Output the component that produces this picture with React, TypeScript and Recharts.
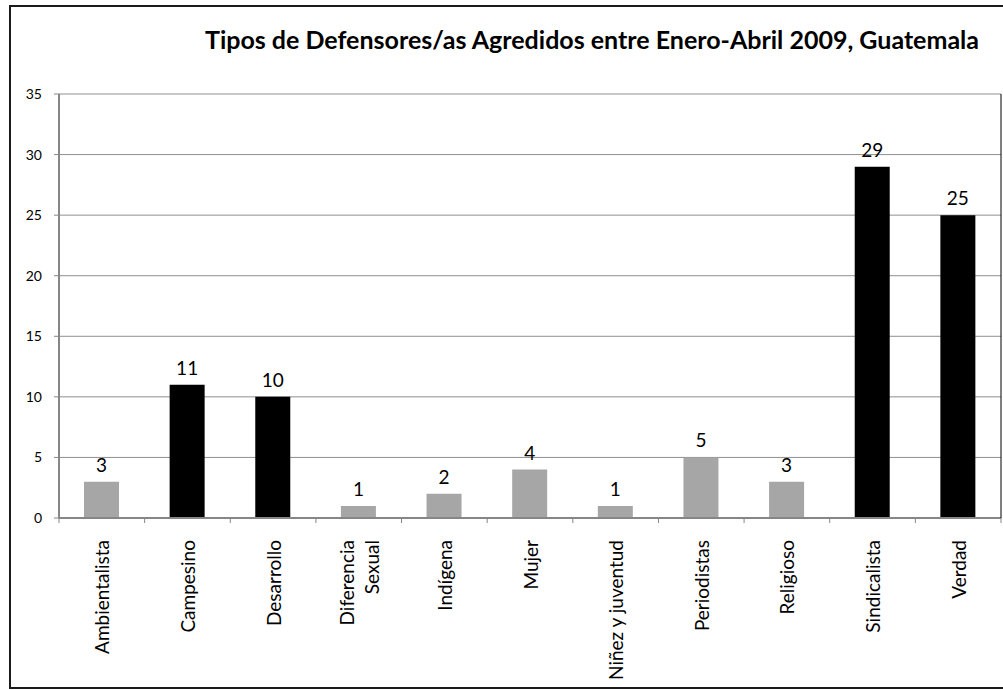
import React from "react";
import {
  BarChart,
  Bar,
  XAxis,
  YAxis,
  CartesianGrid,
  Cell,
  LabelList,
} from "recharts";

const categories = [
  "Ambientalista",
  "Campesino",
  "Desarrollo",
  "Diferencia Sexual",
  "Indígena",
  "Mujer",
  "Niñez y juventud",
  "Periodistas",
  "Religioso",
  "Sindicalista",
  "Verdad",
];
const values = [3, 11, 10, 1, 2, 4, 1, 5, 3, 29, 25];
const yTicks = [0, 5, 10, 15, 20, 25, 30, 35];
const darkCategories = ["Campesino", "Desarrollo", "Sindicalista", "Verdad"];

const FONT = "Lato, 'Open Sans', sans-serif";
const BAND = 942 / 11;

const data = categories.map((name, i) => ({ name, value: values[i] }));

// rotated category labels + boundary tick marks like Excel
function CategoryTick(props: any) {
  const { x, y, payload, index } = props;
  const lines: string[] =
    payload.value === "Diferencia Sexual" ? ["Diferencia", "Sexual"] : [payload.value];
  const left = x - BAND / 2;
  return (
    <g>
      <line x1={left} y1={y} x2={left} y2={y + 5} stroke="#868686" strokeWidth={1} />
      {index === categories.length - 1 && (
        <line x1={x + BAND / 2} y1={y} x2={x + BAND / 2} y2={y + 5} stroke="#868686" />
      )}
      {lines.map((t, i) => {
        const dx = lines.length > 1 ? (i === 0 ? -12 : 13) : 0;
        return (
          <text
            key={t}
            transform={`translate(${x + dx}, ${y + 22}) rotate(-90)`}
            textAnchor="end"
            dominantBaseline="central"
            fontFamily={FONT}
            fontSize={19}
            fill="#000"
          >
            {t}
          </text>
        );
      })}
    </g>
  );
}

export default function App() {
  return (
    <div style={{ position: "absolute", left: 0, top: 0, width: 1003, height: 690, background: "#fff" }}>
      <div
        style={{
          position: "absolute",
          left: 9,
          top: 5,
          width: 1003,
          height: 684,
          border: "2.5px solid #1a1a1a",
          borderRight: "none",
          boxSizing: "border-box",
        }}
      />
      <div
        style={{
          position: "absolute",
          left: 205,
          top: 24,
          fontFamily: FONT,
          fontWeight: 700,
          fontSize: 25,
          whiteSpace: "nowrap",
          color: "#000",
        }}
      >
        Tipos de Defensores/as Agredidos entre Enero-Abril 2009, Guatemala
      </div>
      <div style={{ position: "absolute", left: 0, top: 0 }}>
        <BarChart
          width={1003}
          height={690}
          data={data}
          margin={{ top: 94, right: 0, bottom: 0, left: 0 }}
        >
          <CartesianGrid vertical={false} stroke="#8f8f8f" strokeWidth={1} />
          <XAxis
            dataKey="name"
            height={172}
            interval={0}
            tickLine={false}
            tickSize={0}
            tickMargin={0}
            axisLine={{ stroke: "#868686", strokeWidth: 2 }}
            tick={<CategoryTick />}
          />
          <XAxis
            xAxisId="top"
            orientation="top"
            dataKey="name"
            height={0}
            tick={false}
            tickLine={false}
            axisLine={{ stroke: "#000", strokeWidth: 1.5 }}
          />
          <YAxis
            domain={[0, 35]}
            ticks={yTicks}
            width={59}
            interval={0}
            tickSize={5}
            tickMargin={12}
            axisLine={{ stroke: "#868686", strokeWidth: 2 }}
            tickLine={{ stroke: "#868686" }}
            tick={{ fontFamily: FONT, fontSize: 14, fill: "#000" }}
          />
          <YAxis
            yAxisId="right"
            orientation="right"
            width={2}
            tick={false}
            tickLine={false}
            axisLine={{ stroke: "#000", strokeWidth: 1 }}
          />
          <Bar dataKey="value" barSize={35} isAnimationActive={false}>
            {data.map((d) => (
              <Cell key={d.name} fill={darkCategories.includes(d.name) ? "#000000" : "#a6a6a6"} />
            ))}
            <LabelList
              dataKey="value"
              position="top"
              offset={10}
              style={{ fontFamily: FONT, fontSize: 19, fill: "#000" }}
            />
          </Bar>
        </BarChart>
      </div>
    </div>
  );
}
